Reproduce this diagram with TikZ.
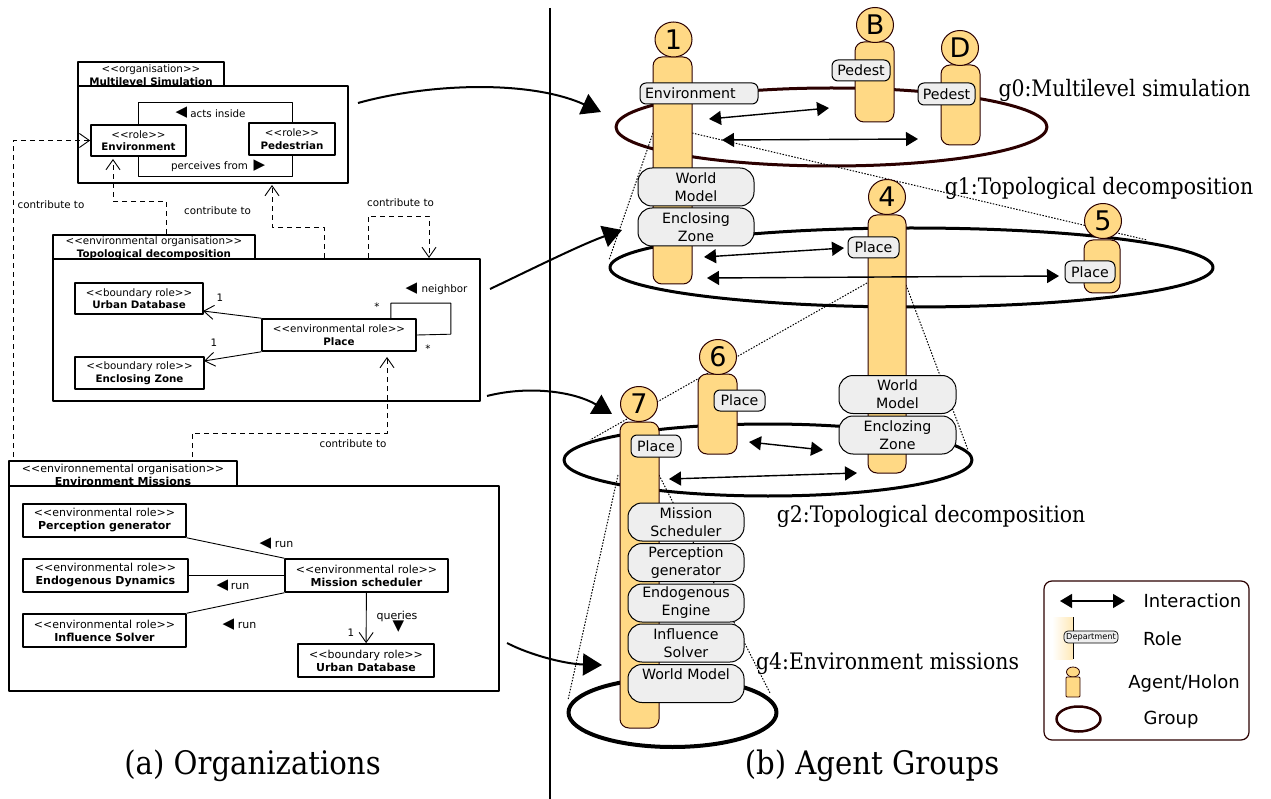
\documentclass[tikz,border=0pt]{standalone}
\usepackage{fontspec}
\setmainfont{DejaVu Sans}
\newfontfamily\seriflabel{DejaVu Serif Condensed}
\usetikzlibrary{arrows.meta,shapes.geometric}
\definecolor{agentfill}{HTML}{FFD985}
\definecolor{agentline}{HTML}{2B0000}
\definecolor{rolefill}{HTML}{EEEEEE}
\newcommand{\stereo}[1]{<{}<#1>{}>}
\tikzset{
  umlbox/.style={draw,line width=1.6pt,fill=white,inner sep=0pt,align=center,font=\fontsize{10.3}{12.6}\selectfont},
  umlwide/.style={umlbox,font=\fontsize{11}{13}\selectfont},
  note/.style={inner sep=0pt,font=\fontsize{10.3}{12.6}\selectfont},
  notewide/.style={inner sep=0pt,font=\fontsize{11}{13}\selectfont},
  dirmark/.style={inner sep=0pt,font=\fontsize{15}{15}\selectfont},
  assoc/.style={line width=0.9pt},
  nav/.style={line width=0.9pt,-{Straight Barb[length=10pt,width=14pt]}},
  dep/.style={line width=0.9pt,dash pattern=on 5pt off 4pt},
  depto/.style={dep,-{Straight Barb[length=10pt,width=14pt]}},
  bigarrow/.style={line width=2pt,-{Triangle[length=19pt,width=22pt]}},
  interact/.style={line width=1.4pt,{Triangle[length=12pt,width=14pt]}-{Triangle[length=12pt,width=14pt]}},
  group/.style={ellipse,draw,inner sep=0pt,line width=3pt},
  projline/.style={line width=1pt,dash pattern=on 1.5pt off 1.5pt},
  agentbody/.style={draw=agentline,fill=agentfill,line width=1pt,rounded corners=9pt,inner sep=0pt},
  agenthead/.style={ellipse,draw=agentline,fill=agentfill,line width=1pt,inner sep=0pt,minimum width=37pt,minimum height=35pt,font=\fontsize{27}{27}\selectfont},
  smallrole/.style={draw,fill=rolefill,line width=1pt,rounded corners=6pt,inner sep=0pt,font=\fontsize{14.2}{16}\selectfont},
  bigrole/.style={draw,fill=rolefill,line width=1pt,rounded corners=14pt,inner sep=0pt,align=center,minimum height=38pt,font=\fontsize{14.2}{18}\selectfont},
  grouplabel/.style={inner sep=0pt,font=\seriflabel\fontsize{22.7}{25}\selectfont},
  caption/.style={inner sep=0pt,font=\seriflabel\fontsize{32.4}{35}\selectfont},
  legendtext/.style={inner sep=0pt,font=\fontsize{18}{20}\selectfont},
}
\begin{document}
\begin{tikzpicture}[x=1pt,y=-1pt,>=latex,line join=bevel]
\useasboundingbox (0,0) rectangle (1271,799);
%% left side: organisations
\node (tab_sim) at (151,75) [umlbox,minimum width=146pt,minimum height=26pt] {\stereo{organisation}\\\textbf{Multilevel Simulation}};
\node (box_sim) at (213,134.5) [umlbox,minimum width=270pt,minimum height=97pt] {};
\node (role_env) at (138.5,140.5) [umlbox,minimum width=95pt,minimum height=31pt] {\stereo{role}\\\textbf{Environment}};
\node (role_ped) at (292,139) [umlbox,minimum width=86pt,minimum height=32pt] {\stereo{role}\\\textbf{Pedestrian}};
\draw [assoc] (role_env.north) -- ++(0,-22) -| (role_ped.north);
\draw [assoc] (role_env.south) -- ++(0,20) -| (role_ped.south);
\node (mark_acts) at (181.5,113) [dirmark] {◀};
\node (text_acts) at (218,113.5) [note] {acts inside};
\node (text_perc) at (209.5,167) [note] {perceives from};
\node (mark_perc) at (259.5,166) [dirmark] {▶};
%
\node (tab_topo) at (154,248) [umlbox,minimum width=202pt,minimum height=26pt] {\stereo{environmental organisation}\\\textbf{Topological decomposition}};
\node (box_topo) at (266.5,330) [umlbox,minimum width=427pt,minimum height=142pt] {};
\node (role_urban) at (139,298.5) [umlbox,minimum width=128pt,minimum height=31pt] {\stereo{boundary role}\\\textbf{Urban Database}};
\node (role_zone) at (139.5,373) [umlbox,minimum width=129pt,minimum height=32pt] {\stereo{boundary role}\\\textbf{Enclosing Zone}};
\node (role_place) at (339,335) [umlbox,minimum width=154pt,minimum height=32pt] {\stereo{environmental role}\\\textbf{Place}};
\coordinate (nav_urban) at (203,311);
\coordinate (nav_zone) at (204,361);
\draw [nav] (role_place.north west) -- (nav_urban);
\draw [nav] (role_place.south west) -- (nav_zone);
\draw [assoc] (role_place.north east) ++(-26,0) -- ++(0,-15) -- ++(60,0) -- ++(0,31) -- (role_place.east |- 0,335);
\node (mult_a) at (220,298) [note] {1};
\node (mult_b) at (214,343) [note] {1};
\node (mult_c) at (377,307) [note] {*};
\node (mult_d) at (428,349) [note] {*};
\node (mark_neigh) at (411.5,289) [dirmark] {◀};
\node (text_neigh) at (444.5,289.5) [note] {neighbor};
%
\node (tab_miss) at (123,475) [umlwide,minimum width=228pt,minimum height=28pt] {\stereo{environnemental organisation}\\\textbf{Environment Missions}};
\node (box_miss) at (254,588.5) [umlbox,minimum width=490pt,minimum height=205pt] {};
\node (role_perc) at (104.5,520.5) [umlwide,minimum width=163pt,minimum height=33pt] {\stereo{environmental role}\\\textbf{Perception generator}};
\node (role_endo) at (105.5,575.5) [umlwide,minimum width=165pt,minimum height=33pt] {\stereo{environmental role}\\\textbf{Endogenous Dynamics}};
\node (role_infl) at (104.5,630.5) [umlwide,minimum width=163pt,minimum height=33pt] {\stereo{environmental role}\\\textbf{Influence Solver}};
\node (role_sched) at (366.5,575.5) [umlwide,minimum width=163pt,minimum height=33pt] {\stereo{environmental role}\\\textbf{Mission scheduler}};
\node (role_base) at (366,660.5) [umlwide,minimum width=136pt,minimum height=33pt] {\stereo{boundary role}\\\textbf{Urban Database}};
\draw [assoc] (role_perc.south east) -- (role_sched.north west);
\draw [assoc] (role_endo) -- (role_sched);
\draw [assoc] (role_infl.north east) -- (role_sched.south west);
\draw [nav] (role_sched) -- (role_base);
\node (mark_run_a) at (265.5,544) [dirmark] {◀};
\node (text_run_a) at (284,544.5) [notewide] {run};
\node (mark_run_b) at (222.5,586) [dirmark] {◀};
\node (text_run_b) at (240,586.5) [notewide] {run};
\node (mark_run_c) at (228.5,625) [dirmark] {◀};
\node (text_run_c) at (247,625.5) [notewide] {run};
\node (text_query) at (397,616.5) [notewide] {queries};
\node (mark_query) at (398.5,627) [dirmark] {▼};
\node (mult_e) at (351,633) [note] {1};
%
% dependencies
\coordinate (dep_env_from) at (13.5,457);
\coordinate (dep_topo_from) at (166,234);
\coordinate (dep_topo_to) at (113,159);
\coordinate (dep_ms_from) at (324,258);
\coordinate (dep_ms_to) at (272,185);
\coordinate (dep_self_from) at (368,258);
\coordinate (dep_self_to) at (429,258);
\coordinate (dep_miss_from) at (192,457);
\coordinate (dep_miss_to) at (387,357);
\draw [depto] (dep_env_from) |- (role_env.west);
\draw [depto] (dep_topo_from) -- ++(0,-33) -| (dep_topo_to);
\draw [depto] (dep_ms_from) -- ++(0,-31) -| (dep_ms_to);
\draw [depto] (dep_self_from) -- ++(0,-42) -| (dep_self_to);
\draw [depto] (dep_miss_from) -- ++(0,-24) -| (dep_miss_to);
\node (text_dep_a) at (51,205) [note] {contribute to};
\node (text_dep_b) at (217.5,211) [note] {contribute to};
\node (text_dep_c) at (400.5,203) [note] {contribute to};
\node (text_dep_d) at (353,443.5) [note] {contribute to};
%
\coordinate (split_top) at (550,8);
\coordinate (split_bot) at (550,799);
\draw [line width=2pt] (split_top) -- (split_bot);
%
%% right side: groups of agents
\node (group_g0) at (831.5,127) [group,draw=agentline,minimum width=431pt,minimum height=78pt] {};
\node (group_g1) at (911.5,267.5) [group,minimum width=603pt,minimum height=79pt] {};
\node (group_g2) at (768,460) [group,minimum width=408pt,minimum height=72pt] {};
\node (group_g4) at (672.5,712.5) [group,line width=4pt,minimum width=208pt,minimum height=69pt] {};
%
\coordinate (proj_a) at (653,133);
\coordinate (proj_b) at (609,260);
\coordinate (proj_c) at (692,133);
\coordinate (proj_d) at (1147,240);
\coordinate (proj_e) at (867,283);
\coordinate (proj_f) at (590,440);
\coordinate (proj_g) at (906,285);
\coordinate (proj_h) at (968,450);
\coordinate (proj_i) at (618,475);
\coordinate (proj_j) at (568,700);
\coordinate (proj_k) at (659,475);
\coordinate (proj_l) at (770,693);
\draw [projline] (proj_a) -- (proj_b);
\draw [projline] (proj_c) -- (proj_d);
\draw [projline] (proj_e) -- (proj_f);
\draw [projline] (proj_g) -- (proj_h);
\draw [projline] (proj_i) -- (proj_j);
\draw [projline] (proj_k) -- (proj_l);
%
\node (body_1) at (672.5,170.5) [agentbody,minimum width=39pt,minimum height=227pt] {};
\node (head_1) at (673.5,39.5) [agenthead] {1};
\node (body_b) at (874.5,82) [agentbody,minimum width=39pt,minimum height=80pt] {};
\node (head_b) at (875,25) [agenthead] {B};
\node (body_d) at (960.5,105) [agentbody,minimum width=39pt,minimum height=80pt] {};
\node (head_d) at (960,48) [agenthead] {D};
\node (body_4) at (887,344) [agentbody,minimum width=38pt,minimum height=258pt] {};
\node (head_4) at (887,197) [agenthead] {4};
\node (body_5) at (1102,266.5) [agentbody,minimum width=36pt,minimum height=53pt] {};
\node (head_5) at (1103,221) [agenthead] {5};
\node (body_6) at (717.5,414) [agentbody,minimum width=39pt,minimum height=80pt] {};
\node (head_6) at (718,357) [agenthead] {6};
\node (body_7) at (639.5,575) [agentbody,minimum width=39pt,minimum height=306pt] {};
\node (head_7) at (639,404) [agenthead] {7};
%
\node (env_role) at (699,93.5) [smallrole,minimum width=118pt,minimum height=21pt,text width=108pt,align=left] {Environment};
\node (ped_b) at (861,70.5) [smallrole,minimum width=58pt,minimum height=21pt] {Pedest};
\node (ped_d) at (946.5,94) [smallrole,minimum width=57pt,minimum height=22pt] {Pedest};
\node (world_1) at (696,187) [bigrole,minimum width=116pt] {World\\Model};
\node (zone_1) at (696,227) [bigrole,minimum width=116pt] {Enclosing\\Zone};
\node (place_4) at (873.5,247.5) [smallrole,minimum width=51pt,minimum height=21pt] {Place};
\node (place_5) at (1090,272) [smallrole,minimum width=50pt,minimum height=22pt] {Place};
\node (world_4) at (897.5,394.5) [bigrole,minimum width=117pt] {World\\Model};
\node (zone_4) at (897.5,435) [bigrole,minimum width=117pt] {Enclozing\\Zone};
\node (place_6) at (739.5,400.5) [smallrole,minimum width=51pt,minimum height=21pt] {Place};
\node (place_7) at (656,446) [smallrole,minimum width=50pt,minimum height=22pt] {Place};
\node (sched_7) at (686,522) [bigrole,minimum width=116pt] {Mission\\Scheduler};
\node (perc_7) at (686,562.5) [bigrole,minimum width=116pt] {Perception\\generator};
\node (endo_7) at (686,603) [bigrole,minimum width=116pt] {Endogenous\\Engine};
\node (infl_7) at (686,643) [bigrole,minimum width=116pt] {Influence\\Solver};
\node (world_7) at (686,683.5) [bigrole,minimum width=116pt] {World Model\\ \ };
%
\coordinate (int_a) at (709,119);
\coordinate (int_b) at (829,108);
\coordinate (int_c) at (722,140);
\coordinate (int_d) at (918,139);
\coordinate (int_e) at (704,257);
\coordinate (int_f) at (844,248);
\coordinate (int_g) at (707,278);
\coordinate (int_h) at (1059,276);
\coordinate (int_i) at (749,442);
\coordinate (int_j) at (823,450);
\coordinate (int_k) at (669,479);
\coordinate (int_l) at (857,473);
\draw [interact] (int_a) -- (int_b);
\draw [interact] (int_c) -- (int_d);
\draw [interact] (int_e) -- (int_f);
\draw [interact] (int_g) -- (int_h);
\draw [interact] (int_i) -- (int_j);
\draw [interact] (int_k) -- (int_l);
%
\node (label_g0) at (1124.5,90) [grouplabel] {g0:Multilevel simulation};
\node (label_g1) at (1099,188) [grouplabel] {g1:Topological decomposition};
\node (label_g2) at (931,516.5) [grouplabel] {g2:Topological decomposition};
\node (label_g4) at (887.5,664) [grouplabel] {g4:Environment missions};
%
% from organisation to group
\coordinate (map_a) at (358,103);
\coordinate (map_a_to) at (601,112);
\coordinate (map_b) at (490,289);
\coordinate (map_b_to) at (622,230);
\coordinate (map_c) at (487,396);
\coordinate (map_c_to) at (612,414);
\coordinate (map_d) at (507,643);
\coordinate (map_d_to) at (602,665);
\draw [bigarrow] (map_a) .. controls (430,83) and (530,80) .. (map_a_to);
\draw [bigarrow] (map_b) .. controls (530,270) and (580,245) .. (map_b_to);
\draw [bigarrow] (map_c) .. controls (530,385) and (575,392) .. (map_c_to);
\draw [bigarrow] (map_d) .. controls (530,655) and (565,664) .. (map_d_to);
%
%% legend
\node (legend) at (1146.5,660.5) [draw=agentline,line width=1.2pt,rounded corners=8pt,minimum width=205pt,minimum height=159pt,inner sep=0pt] {};
\coordinate (key_a) at (1060,601);
\coordinate (key_b) at (1125,601);
\draw [interact] (key_a) -- (key_b);
\node (key_int) at (1192.5,601) [legendtext] {Interaction};
\node (key_shade) at (1062.5,638) [inner sep=0pt,minimum width=21pt,minimum height=42pt,left color=white,right color=agentfill!60] {};
\coordinate (key_c) at (1073,617);
\coordinate (key_d) at (1073,659);
\draw [line width=1pt] (key_c) -- (key_d);
\node (key_dept) at (1091,637) [smallrole,line width=0.7pt,rounded corners=4pt,minimum width=54pt,minimum height=12pt,font=\fontsize{8.2}{9}\selectfont] {Department};
\node (key_role) at (1162.5,639) [legendtext] {Role};
\node (key_head) at (1073,672) [ellipse,draw=agentline,fill=agentfill,line width=0.8pt,inner sep=0pt,minimum width=13pt,minimum height=10pt] {};
\node (key_body) at (1073,687) [draw=agentline,fill=agentfill,line width=0.8pt,rounded corners=1pt,inner sep=0pt,minimum width=14pt,minimum height=20pt] {};
\node (key_agent) at (1184,684) [legendtext] {Agent/Holon};
\node (key_group) at (1078.5,719) [ellipse,draw=agentline,line width=2.5pt,inner sep=0pt,minimum width=44pt,minimum height=25pt] {};
\node (key_name) at (1171,719.5) [legendtext] {Group};
%
\node (cap_a) at (252.5,766) [caption] {(a) Organizations};
\node (cap_b) at (872,766) [caption] {(b) Agent Groups};
%
\end{tikzpicture}
\end{document}
